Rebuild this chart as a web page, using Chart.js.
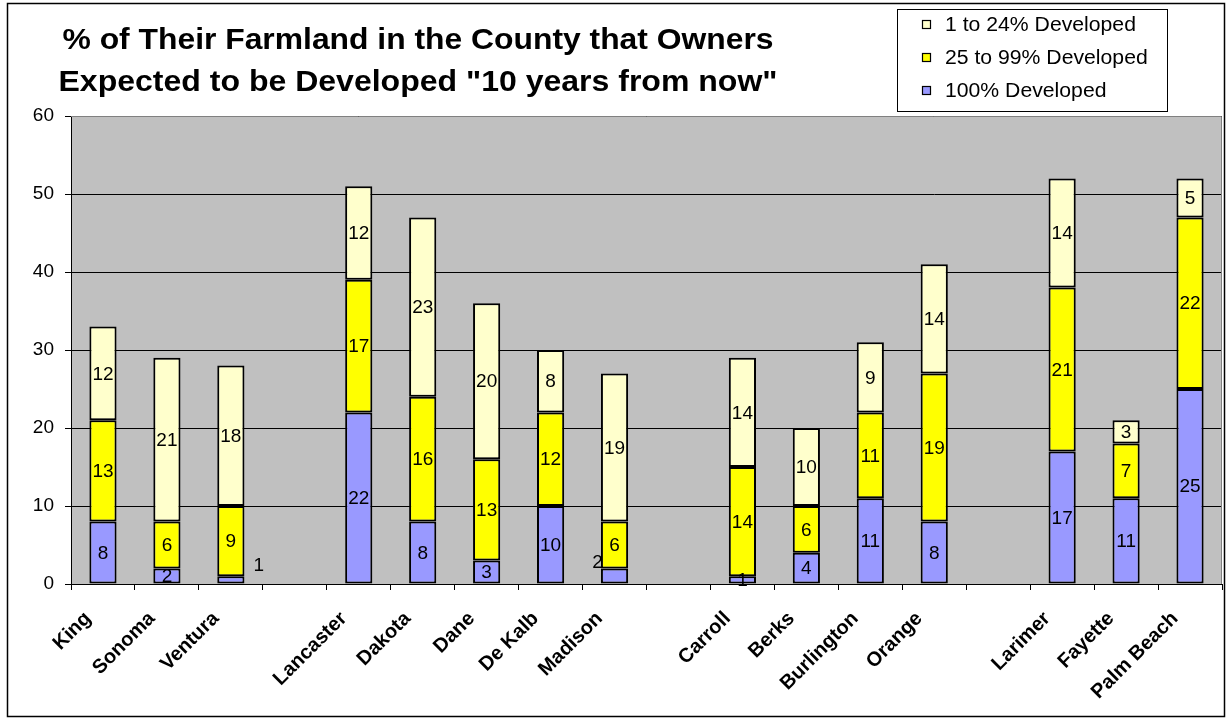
<!DOCTYPE html>
<html><head><meta charset="utf-8">
<script src="https://cdn.jsdelivr.net/npm/chart.js@4/dist/chart.umd.min.js"></script>
<style>html,body{margin:0;padding:0;background:#fff;}#wrap{width:1229px;height:718px;}</style>
</head><body><div id="wrap"><canvas id="c" width="1229" height="718"></canvas></div>
<script>
const categories = ['King','Sonoma','Ventura','','Lancaster','Dakota','Dane','De Kalb','Madison','','Carroll','Berks','Burlington','Orange','','Larimer','Fayette','Palm Beach'];
const dev100 = [8,2,1,null,22,8,3,10,2,null,1,4,11,8,null,17,11,25];
const dev25to99 = [13,6,9,null,17,16,13,12,6,null,14,6,11,19,null,21,7,22];
const dev1to24 = [12,21,18,null,12,23,20,8,19,null,14,10,9,14,null,14,3,5];
const seriesNames = ['100% Developed','25 to 99% Developed','1 to 24% Developed'];
const seriesColors = ['#9999FF','#FFFF00','#FFFFCC'];
const yMin = 0, yMax = 60, yStep = 10;
const titleLines = ['% of Their Farmland in the County that Owners','Expected to be Developed "10 years from now"'];

const FONT = '"Liberation Sans", Arial, sans-serif';
// Excel-style displaced labels for tiny segments (dataset:index -> dx,dy)
const labelNudge = {'0:2':[28,-15],'0:8':[-17,-14]};

function stretchedText(ctx, text, cx, y, targetW){
  const w = ctx.measureText(text).width;
  const s = targetW / w;
  ctx.save();
  ctx.translate(cx, y);
  ctx.scale(s, 1);
  ctx.textAlign = 'center';
  ctx.fillText(text, 0, 0);
  ctx.restore();
}

const decor = {
  id:'decor',
  beforeDraw(chart){
    const {ctx, chartArea:a} = chart;
    ctx.save();
    ctx.fillStyle='#fff'; ctx.fillRect(0,0,chart.width,chart.height);
    ctx.fillStyle='#C0C0C0'; ctx.fillRect(a.left,a.top,a.right-a.left,a.bottom-a.top);
    ctx.restore();
  },
  afterDatasetsDraw(chart){
    const ctx = chart.ctx;
    ctx.save();
    ctx.font = '19px '+FONT; ctx.fillStyle='#000'; ctx.textAlign='center'; ctx.textBaseline='middle';
    chart.data.datasets.forEach((ds,di)=>{
      const meta = chart.getDatasetMeta(di);
      meta.data.forEach((el,i)=>{
        const v = ds.data[i];
        if(v==null) return;
        const n = labelNudge[di+':'+i] || [0,0];
        ctx.fillText(String(v), el.x+n[0], (el.y+el.base)/2+n[1]+1);
      });
    });
    ctx.restore();
  },
  afterDraw(chart){
    const {ctx, chartArea:a} = chart;
    ctx.save();
    ctx.strokeStyle='#808080'; ctx.lineWidth=1;
    ctx.beginPath(); ctx.moveTo(a.left, a.top+0.5); ctx.lineTo(a.right-0.5,a.top+0.5); ctx.lineTo(a.right-0.5,a.bottom); ctx.stroke();
    ctx.strokeStyle='#000'; ctx.lineWidth=1.5;
    ctx.strokeRect(7.5,3.5,1217,713);
    // title
    ctx.fillStyle='#000'; ctx.font='bold 30px '+FONT; ctx.textBaseline='alphabetic';
    stretchedText(ctx, titleLines[0], 418, 49, 711);
    stretchedText(ctx, titleLines[1], 418, 91, 719);
    // legend
    ctx.lineWidth=1; ctx.strokeStyle='#000';
    ctx.strokeRect(897.5,9.5,270,102);
    ctx.font='20px '+FONT; ctx.textAlign='left'; ctx.textBaseline='middle';
    const order=[2,1,0], ys=[24,57,90];
    order.forEach((si,k)=>{
      ctx.fillStyle=seriesColors[si];
      ctx.fillRect(923,ys[k]-3,7,7);
      ctx.strokeStyle='#000'; ctx.lineWidth=1.2;
      ctx.strokeRect(922.5,ys[k]-3.5,8,8);
      ctx.fillStyle='#000';
      const t = seriesNames[si];
      ctx.save(); ctx.translate(945, ys[k]+1); ctx.scale(1.06,1); ctx.fillText(t,0,0); ctx.restore();
    });
    ctx.restore();
  }
};

const datasets = [dev100, dev25to99, dev1to24].map((d,i)=>({
  label: seriesNames[i], data: d, backgroundColor: seriesColors[i],
  borderColor:'#000', borderWidth:2, borderSkipped:false,
  categoryPercentage:1.0, barPercentage:0.425
}));

new Chart(document.getElementById('c'), {
  type:'bar',
  data:{labels:categories, datasets},
  options:{
    responsive:false, animation:false, devicePixelRatio:1,
    layout:{padding:{top:116,left:0,right:7,bottom:0}},
    plugins:{legend:{display:false}, title:{display:false}, tooltip:{enabled:false}},
    scales:{
      x:{stacked:true,
        grid:{display:true, drawOnChartArea:false, drawTicks:true, tickLength:6, color:'#000', offset:true},
        border:{display:true, color:'#000', width:1},
        ticks:{color:'#000', font:{family:FONT, size:20, weight:'bold'}, maxRotation:45, minRotation:45, autoSkip:false, padding:17, labelOffset:-15},
        afterFit(s){ s.height = 134; }
      },
      y:{stacked:true, min:yMin, max:yMax,
        grid:{color:'#000', lineWidth:1, drawTicks:true, tickLength:6},
        border:{display:true, color:'#000', width:1},
        ticks:{stepSize:yStep, color:'#000', font:{family:FONT, size:19}, padding:11},
        afterFit(s){ s.width = 71; }
      }
    }
  },
  plugins:[decor]
});
</script></body></html>
